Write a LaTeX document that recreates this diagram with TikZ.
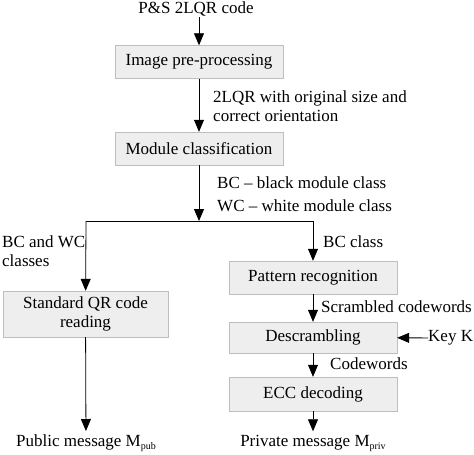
\documentclass[tikz,border=0pt]{standalone}
\usepackage{fontspec}
\setmainfont{Liberation Serif}
\usetikzlibrary{arrows.meta, positioning}
\definecolor{BoxFill}{RGB}{238, 238, 238}
\definecolor{BoxLine}{RGB}{190, 190, 190}
\tikzset{
    stepbox/.style={draw=BoxLine, fill=BoxFill, minimum width=168pt, minimum height=33pt, inner sep=2pt},
    flow/.style={-{Triangle[length=12pt, width=10pt]}, black, line width=0.8pt},
    lbl/.style={anchor=west, align=left, inner sep=0pt}
}
\begin{document}
\begin{tikzpicture}[x=1pt, y=-1pt, font=\fontsize{17}{19.5}\selectfont]
    \useasboundingbox (0,0) rectangle (474,455);

    % Bloques principales
    \node[inner sep=1pt] (code) at (196,9) {P\&S 2LQR code};
    \node[stepbox] (prep) at (199,62) {Image pre-processing};
    \node[stepbox] (classif) at (199,148.5) {Module classification};
    \node[stepbox, minimum width=165pt, minimum height=46pt, align=center] (stdqr) at (85.5,314) {Standard QR code\\reading};
    \node[stepbox] (pattern) at (313,277.5) {Pattern recognition};
    \node[stepbox, minimum height=31pt] (descr) at (313,337.5) {Descrambling};
    \node[stepbox, minimum height=34pt] (ecc) at (313,394) {ECC decoding};
    \node (pub) at (86,443) {Public message M\raisebox{-3pt}{\fontsize{10}{10}\selectfont pub}};
    \node (priv) at (313,443) {Private message M\raisebox{-3pt}{\fontsize{10}{10}\selectfont priv}};
    \node[lbl] (key) at (428,338) {Key K};

    % Bifurcacion
    \coordinate (split) at (199,221);
    \coordinate (lsplit) at (86,221);
    \coordinate (rsplit) at (313,221);

    % Flechas
    \draw[flow] (code.south -| prep.north) -- (prep);
    \draw[flow] (prep) -- (classif);
    \draw[flow] (classif) -- (split);
    \draw[black, line width=0.8pt] (lsplit) -- (rsplit);
    \draw[flow] (lsplit) -- (stdqr);
    \draw[flow] (rsplit) -- (pattern);
    \draw[flow] (pattern) -- (descr);
    \draw[flow] (key) -- (descr);
    \draw[flow] (descr) -- (ecc);
    \draw[flow] (ecc) -- (priv);
    \draw[flow] (stdqr) -- (pub);

    % Etiquetas
    \node[lbl] (lprep) at (213,106) {2LQR with original size and\\correct orientation};
    \node[lbl] (lclass) at (217,194) {BC -- black module class\\[4pt]WC -- white module class};
    \node[lbl] (lleft) at (2,251) {BC and WC\\classes};
    \node[lbl] (lright) at (323,242) {BC class};
    \node[lbl] (lscr) at (321,307) {Scrambled codewords};
    \node[lbl] (lcw) at (330,364) {Codewords};
\end{tikzpicture}
\end{document}
